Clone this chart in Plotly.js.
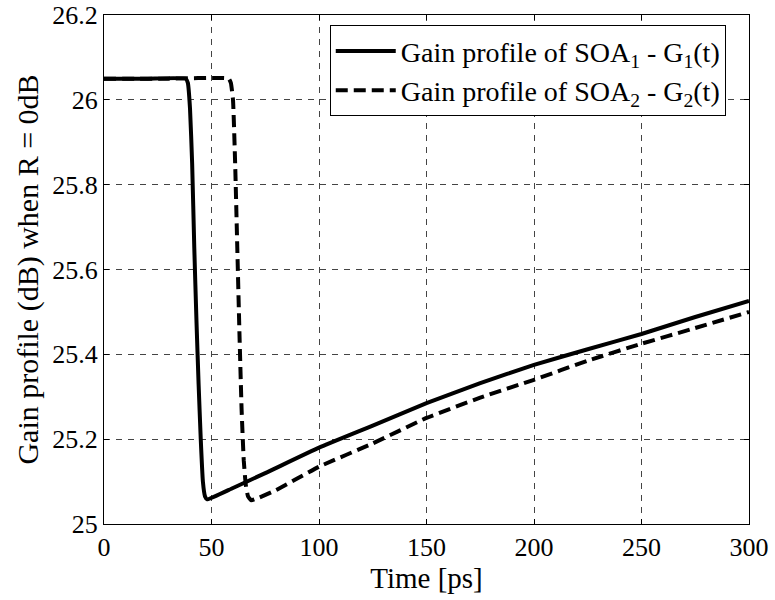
<!DOCTYPE html>
<html>
<head>
<meta charset="utf-8">
<script src="https://cdn.plot.ly/plotly-3.0.1.min.js"></script>
<style>
  html, body { margin: 0; padding: 0; background: #fff; }
  #chart { width: 775px; height: 600px; }
  /* serif tick labels, sized like the axis titles' companions */
  #chart .xtick text, #chart .ytick text {
    font-family: 'Liberation Serif', serif !important;
    font-size: 26px !important;
    fill: #000 !important;
  }
</style>
</head>
<body>
<div id="chart"></div>
<script>
// Gain profile of SOA1 (solid) and SOA2 (dashed) versus time, R = 0 dB
const timeG1 = [0, 20, 38, 39, 40, 41, 42, 43, 44, 45, 46, 47, 48,
                60, 75, 100, 125, 150, 175, 200, 225, 250, 275, 300];
const gainG1 = [26.05, 26.05, 26.05, 26.04, 25.98, 25.85, 25.65, 25.48, 25.33, 25.20, 25.10, 25.065, 25.058,
                25.085, 25.12, 25.18, 25.232, 25.285, 25.332, 25.375, 25.412, 25.448, 25.488, 25.526];

const timeG2 = [0, 30, 58, 59, 60, 61, 62, 63, 64, 65, 66, 67, 68.5,
                80, 100, 125, 150, 175, 200, 225, 250, 275, 300];
const gainG2 = [26.05, 26.05, 26.05, 26.04, 26.00, 25.85, 25.65, 25.45, 25.27, 25.15, 25.09, 25.065, 25.056,
                25.08, 25.135, 25.19, 25.25, 25.298, 25.34, 25.385, 25.425, 25.462, 25.50];

const xTicks = [0, 50, 100, 150, 200, 250, 300];
const yTicks = [25, 25.2, 25.4, 25.6, 25.8, 26, 26.2];
const yTickText = ['25', '25.2', '25.4', '25.6', '25.8', '26', '26.2'];

const serif = 'Liberation Serif';

const traces = [
  {
    x: timeG1, y: gainG1, type: 'scatter', mode: 'lines',
    name: 'Gain profile of SOA<sub>1</sub> - G<sub>1</sub>(t)',
    line: { color: '#000', width: 4, shape: 'spline', smoothing: 0.4 }
  },
  {
    x: timeG2, y: gainG2, type: 'scatter', mode: 'lines',
    name: 'Gain profile of SOA<sub>2</sub> - G<sub>2</sub>(t)',
    line: { color: '#000', width: 4, dash: '12px,6px', shape: 'spline', smoothing: 0.4 }
  }
];

function axisStyle() {
  return {
    showline: true, linecolor: '#000', linewidth: 1, mirror: 'ticks',
    ticks: 'inside', ticklen: 5, tickcolor: '#000',
    showgrid: true, gridcolor: '#444', gridwidth: 1, griddash: '6px,6px',
    zeroline: false,
    tickfont: { family: serif, size: 26, color: '#000' }
  };
}

const layout = {
  width: 775, height: 600,
  margin: { l: 104, r: 26, t: 15, b: 76 },
  paper_bgcolor: '#fff', plot_bgcolor: '#fff',
  font: { family: serif, size: 26, color: '#000' },
  showlegend: true,
  legend: {
    x: 0.35, y: 0.98, xanchor: 'left', yanchor: 'top',
    bgcolor: '#fff', bordercolor: '#000', borderwidth: 1,
    font: { family: serif, size: 28, color: '#000' },
    itemwidth: 60, tracegroupgap: 0
  },
  xaxis: Object.assign(axisStyle(), {
    range: [0, 300], tickvals: xTicks,
    title: { text: 'Time [ps]', font: { family: serif, size: 29, color: '#000' }, standoff: 0 }
  }),
  yaxis: Object.assign(axisStyle(), {
    range: [25, 26.2], tickvals: yTicks, ticktext: yTickText,
    title: { text: 'Gain profile (dB) when R = 0dB', font: { family: serif, size: 30, color: '#000' }, standoff: 4 }
  })
};

Plotly.newPlot('chart', traces, layout, { displayModeBar: false, staticPlot: true });
</script>
</body>
</html>
